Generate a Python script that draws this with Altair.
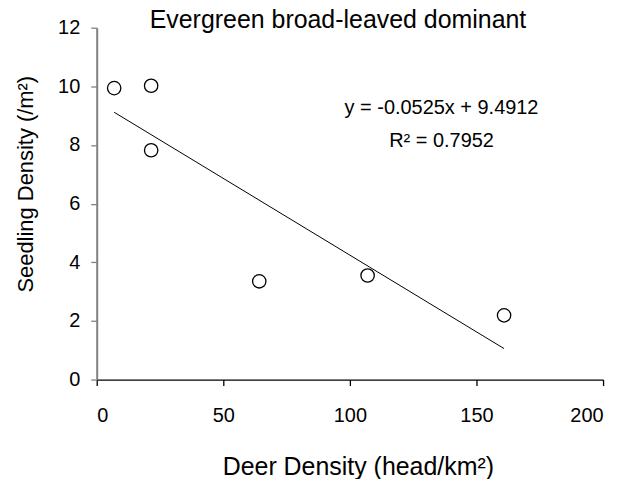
import altair as alt
import pandas as pd

# Data
deer = [6.9, 21.5, 21.5, 64.2, 107.0, 160.9]
seedling = [9.94, 10.02, 7.82, 3.35, 3.55, 2.19]

ann_text = ["y = -0.0525x + 9.4912", "R² = 0.7952"]
ann_x = [136.2, 136.2]
ann_y = [9.06, 7.93]

title_text = ["Evergreen broad-leaved dominant"]
title_x = [95.3]
title_y = [11.98]

x_ticks = [0, 50, 100, 150, 200]
y_ticks = [0, 2, 4, 6, 8, 10, 12]

df = pd.DataFrame({"deer": deer, "seedling": seedling})
ann = pd.DataFrame({"label": ann_text, "x": ann_x, "y": ann_y})
ttl = pd.DataFrame({"label": title_text, "x": title_x, "y": title_y})

FONT = "Liberation Sans"

xscale = alt.Scale(domain=[0, 200], nice=False, zero=False)
yscale = alt.Scale(domain=[0, 12], nice=False, zero=False)

xaxis = alt.Axis(
    values=x_ticks, grid=False, domainColor="black", domainWidth=1.3,
    tickColor="black", tickSize=6, tickWidth=1.3,
    labelFont=FONT, labelFontSize=20, labelColor="black", labelPadding=20,
    title="Deer Density (head/km²)", titleFont=FONT, titleFontSize=25,
    titleFontWeight="normal", titleColor="black",
    titleX=262, titleY=95, titleAlign="center", titleBaseline="alphabetic",
)
yaxis = alt.Axis(
    values=y_ticks, grid=False, domainColor="#808080", domainWidth=2,
    tickColor="#808080", tickSize=6, tickWidth=1.3,
    labelFont=FONT, labelFontSize=20, labelColor="black", labelPadding=11,
    title="Seedling Density (/m²)", titleFont=FONT, titleFontSize=22,
    titleFontWeight="normal", titleColor="black", titleAngle=270,
    titleX=-64, titleY=156.5, titleAlign="center", titleBaseline="alphabetic",
)

base = alt.Chart(df)

points = base.mark_point(
    shape="circle", filled=False, stroke="black", strokeWidth=1.3,
    size=180, opacity=1
).encode(
    x=alt.X("deer:Q", scale=xscale, axis=xaxis),
    y=alt.Y("seedling:Q", scale=yscale, axis=yaxis),
)

trend = base.transform_regression("deer", "seedling").mark_line(
    color="black", strokeWidth=1
).encode(
    x=alt.X("deer:Q", scale=xscale),
    y=alt.Y("seedling:Q", scale=yscale),
)

labels = alt.Chart(ann).mark_text(
    font=FONT, fontSize=20, color="black", align="center", baseline="alphabetic"
).encode(
    x=alt.X("x:Q", scale=xscale),
    y=alt.Y("y:Q", scale=yscale),
    text="label:N",
)

title = alt.Chart(ttl).mark_text(
    font=FONT, fontSize=25, color="black", align="center", baseline="alphabetic"
).encode(
    x=alt.X("x:Q", scale=xscale),
    y=alt.Y("y:Q", scale=yscale),
    text="label:N",
)

chart = alt.layer(trend, points, labels, title).properties(
    width=508,
    height=353,
    padding={"left": 89, "top": 19, "right": 20, "bottom": 100},
    autosize="none",
).configure_view(stroke=None)

chart.save("out.html", embed_options={"renderer": "svg", "actions": False})
